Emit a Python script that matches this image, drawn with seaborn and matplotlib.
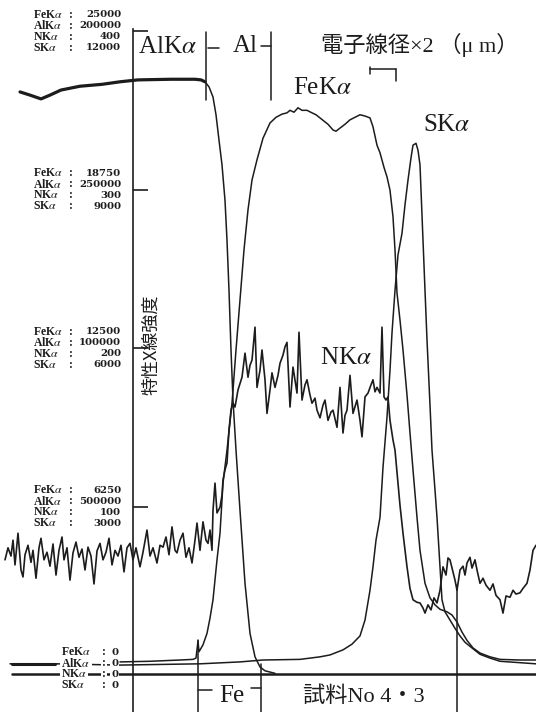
import matplotlib
matplotlib.use("Agg")
import matplotlib.pyplot as plt
import seaborn as sns

# ---------------- data (relative intensity, % of full scale) ----------------
alk_x = [20, 30, 41, 50, 61, 80, 102, 120, 138, 171, 195, 201, 205, 209, 213, 216, 219, 222, 225, 227,
         229, 231, 233, 236, 240, 245, 250, 255, 260, 265, 275]
alk_y = [90.4, 89.9, 89.3, 89.9, 90.7, 91.3, 91.6, 92.0, 92.3, 92.4, 92.4, 92.3, 92.0, 91.2, 89.6, 86.8, 82.8, 78.9, 73.3, 67.0,
         59.1, 49.7, 41.8, 33.9, 24.4, 12.9, 5.0, 1.3, -0.3, -0.9, -1.3]

fek_x = [120, 150, 180, 193, 196, 198, 199, 203, 207, 210, 213, 217, 220, 223, 227, 232, 236, 240, 244, 248,
         252, 257, 263, 270, 276, 282, 287, 290, 294, 298, 302, 307, 312, 316, 320, 324, 328, 333, 336, 340,
         345, 350, 355, 360, 365, 370, 373, 377, 380, 384, 387, 390, 393, 395, 397, 400, 403, 407, 410, 413,
         417, 420, 425, 430, 435, 440, 447, 452, 457, 462, 467, 473, 480, 490, 500, 520, 536]
fek_y = [0.5, 0.6, 0.8, 0.9, 1.1, 3.8, 2.1, 3.2, 5.0, 7.4, 10.3, 16.6, 20.8, 28.7, 33.9, 41.3, 49.7, 57.6, 65.5, 71.8,
         76.5, 79.7, 83.1, 85.5, 86.4, 86.9, 87.1, 87.5, 87.2, 87.9, 87.5, 87.5, 87.1, 86.8, 86.3, 85.8, 85.3, 84.4, 84.2, 84.7,
         85.3, 86.0, 86.4, 86.8, 86.6, 86.3, 84.9, 82.0, 80.8, 78.5, 77.0, 74.9, 70.7, 65.5, 58.7, 54.4, 49.7, 42.6, 36.6, 30.8,
         23.3, 18.1, 12.9, 10.6, 9.5, 8.8, 8.4, 7.9, 6.8, 5.2, 3.9, 2.7, 1.9, 1.3, 0.9, 0.8, 0.8]

sk_x = [10, 55, 120, 200, 240, 263, 300, 320, 330, 343, 352, 360, 365, 370, 373, 376, 380, 383, 387, 390,
        392, 395, 398, 402, 405, 408, 411, 413, 416, 418, 420, 423, 425, 427, 430, 432, 435, 437, 440, 442,
        445, 450, 455, 460, 465, 472, 480, 490, 500, 536]
sk_y = [0.2, 0.2, 0.0, 0.2, 0.5, 0.8, 0.9, 1.3, 1.6, 2.4, 3.3, 4.6, 7.1, 11.8, 15.5, 19.7, 23.3, 31.2, 39.1, 46.5,
        52.4, 59.1, 64.7, 68.1, 72.6, 76.5, 80.0, 82.0, 82.3, 81.2, 78.9, 67.0, 59.1, 51.3, 41.0, 33.9, 27.6, 23.3, 15.5, 10.3,
        8.4, 7.1, 5.8, 4.6, 3.6, 2.7, 1.7, 1.1, 0.6, 0.2]

nk_x = [5, 8, 11, 13, 15, 18, 21, 23, 25, 28, 31, 33, 36, 39, 41, 44, 47, 50, 53, 56,
        59, 62, 64, 67, 70, 73, 76, 79, 82, 85, 88, 91, 94, 97, 100, 103, 106, 109, 112, 115,
        118, 121, 124, 127, 130, 133, 136, 140, 143, 147, 150, 153, 157, 160, 163, 166, 169, 172, 175, 177,
        180, 183, 186, 189, 192, 195, 197, 200, 203, 206, 208, 210, 212, 213, 215, 217, 220, 222, 223, 225,
        227, 229, 231,
        233, 235, 238, 242, 245, 248, 250, 252, 255, 257, 260, 262, 265, 267, 270, 272, 275, 278, 280, 283,
        285, 287, 290, 293, 297, 299, 302, 305, 307, 310, 312, 315, 317, 320, 323, 325, 328, 331, 333, 337,
        340, 343, 345, 347, 350, 353, 357, 360, 362, 365, 368, 371, 373, 375, 377, 380, 382, 384, 386, 388,
        390, 393, 395, 398, 400, 403, 407, 410, 413, 417, 420, 423, 425, 428, 431, 434, 437, 440,
        443, 446, 448, 450, 453, 455, 457, 460, 463, 465, 467, 470, 472, 475, 477, 480, 483, 486, 490, 493,
        496, 500, 503, 506, 510, 513, 516, 520, 523, 527, 530, 533, 536]
nk_y = [16.6, 18.5, 17.2, 19.7, 15.8, 20.8, 15.0, 13.9, 17.4, 18.9, 16.2, 18.1, 13.7, 18.5, 20.0, 16.6, 17.8, 15.6, 19.1, 14.2,
        18.1, 20.2, 16.6, 18.5, 13.4, 17.7, 19.4, 17.0, 18.3, 15.0, 18.6, 17.2, 12.8, 18.0, 19.2, 16.6, 17.8, 20.0, 15.8, 18.1,
        17.2, 18.9, 14.7, 18.5, 19.2, 16.6, 18.5, 15.5, 17.8, 21.3, 17.2, 18.5, 16.1, 18.9, 18.6, 20.2, 17.4, 21.8, 18.1, 17.7,
        19.7, 20.8, 17.0, 18.5, 16.1, 19.7, 22.4, 18.1, 22.6, 19.7, 19.2, 21.3, 18.1, 24.4, 28.7, 24.0, 24.9, 26.8, 29.2, 30.8,
        31.9, 37.1, 40.2,
        41.3, 40.7, 43.4, 45.4, 49.2, 45.4, 47.3, 48.1, 53.3, 43.8, 46.5, 49.7, 45.0, 39.7, 43.4, 46.1, 43.8, 45.7, 47.6, 48.9,
        50.2, 50.9, 40.7, 47.0, 42.9, 52.5, 41.8, 44.2, 45.0, 42.6, 41.3, 42.1, 40.2, 39.0, 41.0, 41.8, 38.6, 39.9, 40.2, 37.5,
        43.8, 36.6, 39.4, 40.2, 45.7, 39.7, 41.8, 38.6, 36.0, 42.3, 42.9, 44.2, 45.0, 43.1, 43.8, 42.9, 53.3, 42.3, 41.8, 42.3,
        38.6, 35.5, 33.9, 28.7, 25.2, 20.8, 15.5, 12.1, 10.3, 9.9, 9.8, 9.0, 8.2, 9.5, 8.7, 10.6, 9.8, 11.8,
        15.5, 14.2, 16.9, 16.6, 14.7, 13.4, 11.8, 15.0, 15.6, 14.2, 16.1, 17.0, 15.3, 16.6, 15.0, 12.9, 13.7, 12.6, 11.8, 12.8,
        11.0, 10.3, 8.2, 10.9, 10.7, 11.8, 11.2, 11.4, 12.1, 12.9, 15.0, 18.1, 18.9]

zero_x = [12, 536]
zero_y = [-1.4, -1.4]

tick_vals = [0, 25, 50, 75, 100]
fe_labels = ["0", "6250", "12500", "18750", "25000"]
al_labels = ["0", "500000", "100000", "250000", "200000"]
n_labels = ["0", "100", "200", "300", "400"]
s_labels = ["0", "3000", "6000", "9000", "12000"]
elem_names = ["FeK$\\alpha$", "AlK$\\alpha$", "NK$\\alpha$", "SK$\\alpha$"]

# ---------------- figure ----------------
sns.set_theme(style="white")
plt.rcParams["font.family"] = ["Liberation Serif", "Noto Sans CJK JP", "DejaVu Sans"]
plt.rcParams["mathtext.fontset"] = "stix"

INK = "#1c1c1c"
fig = plt.figure(figsize=(5.36, 7.12), dpi=100)
ax = fig.add_axes([0, 0, 1, 1])
ax.set_xlim(0, 536)
ax.set_ylim(-7.4, 104.9)
PX = 6.34  # picture pixels per data unit (vertical)


def D(py):
    """picture row -> data y (for annotation placement only)"""
    return (665 - py) / PX


# curves
sns.lineplot(x=zero_x, y=zero_y, ax=ax, color=INK, lw=1.8, estimator=None, sort=False)
sns.lineplot(x=sk_x, y=sk_y, ax=ax, color=INK, lw=1.1, estimator=None, sort=False)
sns.lineplot(x=fek_x, y=fek_y, ax=ax, color=INK, lw=1.1, estimator=None, sort=False)
sns.lineplot(x=nk_x, y=nk_y, ax=ax, color=INK, lw=1.2, estimator=None, sort=False)
sns.lineplot(x=alk_x, y=alk_y, ax=ax, color=INK, lw=1.1, estimator=None, sort=False)
n_flat = sum(1 for v in alk_x if v <= 205)
sns.lineplot(x=alk_x[:n_flat], y=alk_y[:n_flat], ax=ax, color=INK, lw=2.3, estimator=None, sort=False)

# axis
for s in ["top", "right", "bottom"]:
    ax.spines[s].set_visible(False)
ax.spines["left"].set_position(("data", 133))
ax.spines["left"].set_bounds(-7.4, 100.4)
ax.spines["left"].set_color(INK)
ax.spines["left"].set_linewidth(1.2)
ax.set_xticks([])
ax.set_yticks(tick_vals[1:])
ax.tick_params(axis="y", direction="in", length=11, width=1.2, color=INK, labelleft=False, left=True)
ax.grid(False)

# tick label blocks: one row per element, rows 11 px apart
row_off = [16.5, 5.5, -5.5, -16.5]
name_kw = dict(fontsize=8.5, fontweight="bold", color=INK, va="center")
num_kw = dict(fontsize=7.3, fontweight="bold", color=INK, va="center", family=["DejaVu Serif"])
box = dict(boxstyle="square,pad=0.12", fc="white", ec="none")
for i, tv in enumerate(tick_vals):
    nums = [fe_labels[i], al_labels[i], n_labels[i], s_labels[i]]
    for r in range(4):
        if i == 0:
            yy = tv - 0.6 + row_off[r] / PX
            ax.text(61, yy, elem_names[r], ha="left", bbox=box, **name_kw)
            ax.text(104, yy, ":", ha="center", bbox=box, **name_kw)
            ax.text(118, yy, nums[r], ha="right", bbox=box, **num_kw)
        else:
            yy = tv + row_off[r] / PX
            ax.text(33, yy, elem_names[r], ha="left", **name_kw)
            ax.text(71, yy, ":", ha="center", **name_kw)
            ax.text(121, yy, nums[r], ha="right", **num_kw)

# bracket / marker lines (decoration)
deco = [((206, 32), (206, 100)), ((271, 32), (271, 100)),
        ((208, 48), (219, 48)), ((261, 46), (271, 46)),
        ((370, 67), (370, 74)), ((370, 69), (396, 69)), ((396, 69), (396, 81)),
        ((198, 640), (198, 712)), ((198, 690), (212, 690)),
        ((251, 688), (261, 688)), ((261, 664), (261, 712)),
        ((457, 585), (457, 712)),
        ((12, 664), (55, 664))]
for (x0, y0), (x1, y1) in deco:
    lw = 2.2 if y0 == 664 and y1 == 664 else 1.1
    ax.plot([x0, x1], [D(y0), D(y1)], color=INK, lw=lw)

big = dict(fontsize=18, color=INK, va="center")
ax.text(138, D(47), "AlK$\\alpha$", ha="left", **big)
ax.text(245, D(46), "Al", ha="center", **big)
ax.text(322, D(88), "FeK$\\alpha$", ha="center", **big)
ax.text(447, D(125), "SK$\\alpha$", ha="center", **big)
ax.text(346, D(358), "NK$\\alpha$", ha="center", **big)
ax.text(232, D(696), "Fe", ha="center", **big)

ax.text(420, D(45), "電子線径×2 （μ m）", ha="center", va="center", fontsize=16, color=INK,
        family=["Liberation Serif", "Noto Sans CJK JP"])
ax.text(364, D(697), "試料No 4・3", ha="center", va="center", fontsize=16, color=INK,
        family=["Liberation Serif", "Noto Sans CJK JP"])
ax.text(151, D(345), "特性X線強度", ha="center", va="center", fontsize=13, color=INK, rotation=90,
        family=["Noto Sans CJK JP", "DejaVu Sans"])

fig.savefig("out.png", dpi=100, facecolor="white")
